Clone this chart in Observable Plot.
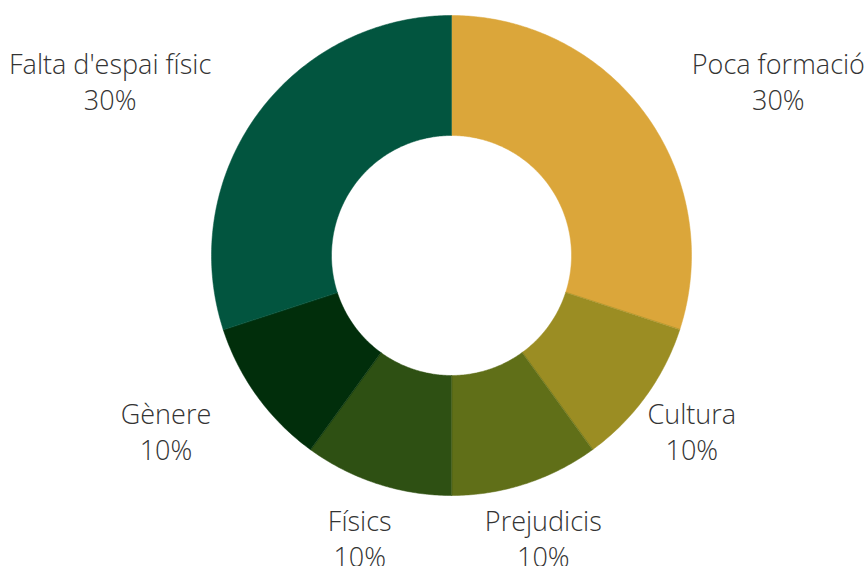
<!DOCTYPE html>
<html><head><meta charset="utf-8">
<script src="https://cdn.jsdelivr.net/npm/d3@7"></script>
<script src="https://cdn.jsdelivr.net/npm/@observablehq/plot@0.6"></script>
<style>body{margin:0;background:#fff;overflow:hidden}</style>
</head><body><div id="chart"></div>
<script>
const categories = ["Poca formació", "Cultura", "Prejudicis", "Físics", "Gènere", "Falta d'espai físic"];
const values = [30, 10, 10, 10, 10, 30];
const colors = ["#DBA63A", "#9B8D23", "#606F18", "#2E5013", "#012E0B", "#02553F"];

const W = 865, H = 566, cx = 451, cy = 255, R = 240;
const innerR = 0.5, labelR = 297 / 240;
const FONT = "'Open Sans', sans-serif", FS = 27;

const data = categories.map((c, i) => ({category: c, value: values[i], color: colors[i]}));
const arcs = d3.pie().sort(null).value(d => d.value)(data);
const total = d3.sum(values);

function slicePolygon(a0, a1) {
  const n = Math.max(8, Math.ceil((a1 - a0) / 0.01));
  const ring = [];
  for (let i = 0; i <= n; i++) { const a = a0 + (a1 - a0) * i / n; ring.push([Math.sin(a), -Math.cos(a)]); }
  for (let i = n; i >= 0; i--) { const a = a0 + (a1 - a0) * i / n; ring.push([innerR * Math.sin(a), -innerR * Math.cos(a)]); }
  ring.push(ring[0]);
  return ring;
}
const slices = arcs.map(a => ({
  type: "Feature",
  properties: a.data,
  geometry: {type: "Polygon", coordinates: [slicePolygon(a.startAngle, a.endAngle)]}
}));

// label placement: at mid-angle; shifted outward horizontally if the centered block would touch the ring
const ctx = document.createElement("canvas").getContext("2d");
ctx.font = `300 ${FS}px ${FONT}`;
const labels = arcs.map(a => {
  const m = (a.startAngle + a.endAngle) / 2;
  const x = labelR * Math.sin(m), y = -labelR * Math.cos(m);
  const pct = Math.round(a.data.value / total * 100) + "%";
  const w = Math.max(ctx.measureText(a.data.category).width, ctx.measureText(pct).width) / R;
  const h = 62 / R;
  const nx = Math.max(x - w / 2, Math.min(0, x + w / 2));
  const ny = Math.max(y - h / 2, Math.min(0, y + h / 2));
  const overlap = Math.hypot(nx, ny) < 1.012;
  const shift = overlap ? Math.sign(x) * w / 2 : 0;
  return {x: x + shift, y, text: a.data.category + "\n" + pct};
});

const x0 = -cx / R, x1 = (W - cx) / R, y0 = -cy / R, y1 = (H - cy) / R;
const domain = {type: "Polygon", coordinates: [[[x0, y0], [x1, y0], [x1, y1], [x0, y1], [x0, y0]]]};

const chart = Plot.plot({
  width: W, height: H,
  margin: 0,
  projection: {type: "identity", domain, inset: 0},
  style: {background: "#fff", fontFamily: FONT},
  marks: [
    Plot.geo(slices, {fill: d => d.properties.color, stroke: d => d.properties.color, strokeWidth: 0.5}),
    Plot.text(labels, {
      x: "x", y: "y", text: "text", textAnchor: "middle",
      fontSize: FS, fontWeight: 300, fontFamily: FONT, fill: "#333", lineHeight: 36 / FS
    })
  ]
});
document.getElementById("chart").append(chart);
</script>
</body></html>
